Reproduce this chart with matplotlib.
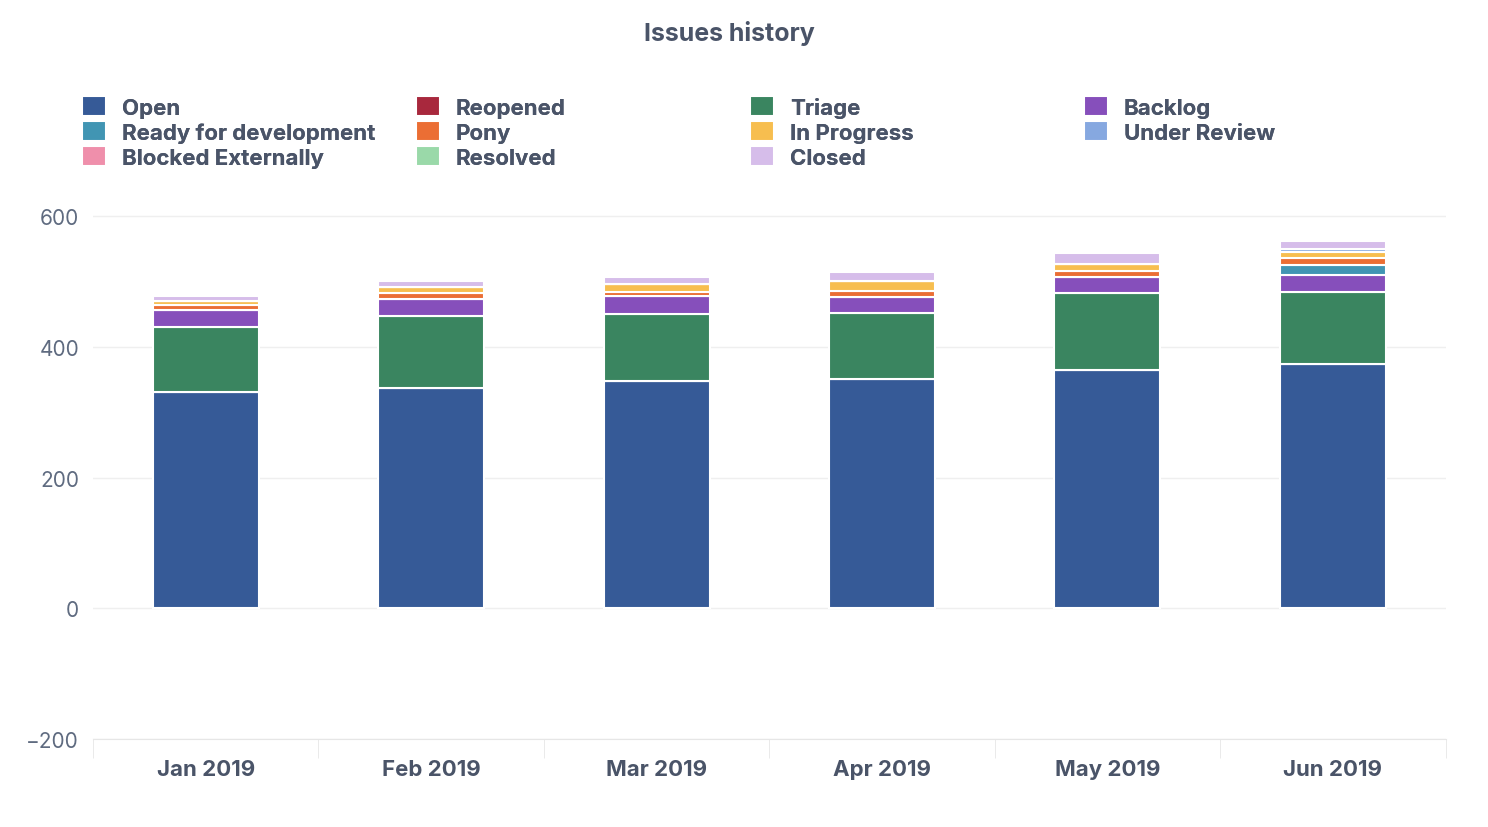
import matplotlib.pyplot as plt
import numpy as np

plt.rcParams['font.family'] = ['Inter', 'DejaVu Sans']

months = ['Jan 2019', 'Feb 2019', 'Mar 2019', 'Apr 2019', 'May 2019', 'Jun 2019']
statuses = ['Open', 'Reopened', 'Triage', 'Backlog',
            'Ready for development', 'Pony', 'In Progress', 'Under Review',
            'Blocked Externally', 'Resolved', 'Closed']
colors = ['#365a97', '#a8283d', '#3a8560', '#864fbb',
          '#4195b3', '#eb6e34', '#f7be4f', '#86a8e0',
          '#ef8fab', '#9ad9a9', '#d6bdea']

open_ = [330, 337, 348, 351, 365, 373]
reopened = [0, 0, 0, 0, 0, 0]
triage = [100, 110, 102, 100, 117, 110]
backlog = [26, 26, 27, 25, 25, 27]
ready = [0, 0, 0, 0, 0, 15]
pony = [8, 9, 6, 9, 9, 10]
in_progress = [5, 9, 13, 16, 11, 9]
under_review = [0, 0, 0, 0, 0, 5]
blocked = [0, 0, 0, 0, 0, 0]
resolved = [0, 0, 0, 0, 0, 0]
closed = [9, 10, 10, 13, 16, 12]
series = [open_, reopened, triage, backlog, ready, pony, in_progress,
          under_review, blocked, resolved, closed]

fig = plt.figure(figsize=(14.88, 8.28), dpi=100)
ax = fig.add_axes([0.0625, 0.106, 0.909, 0.648])
x = np.arange(len(months))
bottom = np.zeros(len(months))
for name, vals, c in zip(statuses, series, colors):
    vals = np.array(vals, dtype=float)
    ax.bar(x, vals, 0.47, bottom=bottom, color=c, edgecolor='white', linewidth=1.5, label=name)
    bottom += vals

ax.set_ylim(-200, 620)
ax.set_xlim(-0.5, len(months) - 0.5)
ax.set_yticks([-200, 0, 200, 400, 600])
ax.grid(axis='y', color='#efefef', linewidth=1)
ax.set_axisbelow(True)
for s in ['top', 'right', 'left']:
    ax.spines[s].set_visible(False)
ax.spines['bottom'].set_color('#e6e6e6')
ax.set_xticks(x)
ax.set_xticklabels(months, fontsize=16, fontweight='bold', color='#4a5468')
ax.set_xticks(np.arange(len(months) + 1) - 0.5, minor=True)
ax.tick_params(axis='x', which='major', length=0, pad=14)
ax.tick_params(axis='x', which='minor', length=14, color='#e6e6e6')
ax.tick_params(axis='y', length=0, labelsize=15, labelcolor='#5f6b80', pad=10)

fig.text(0.49, 0.96, 'Issues history', ha='center', va='center', fontsize=18,
         fontweight='bold', color='#4a5468')

# legend: one block per column, evenly spaced
h, l = ax.get_legend_handles_labels()
cols = [[0, 4, 8], [1, 5, 9], [2, 6, 10], [3, 7]]
for k, idx in enumerate(cols):
    leg = fig.legend([h[i] for i in idx], [l[i] for i in idx],
                     loc='upper left', bbox_to_anchor=(0.049 + k * 0.2245, 0.893),
                     frameon=False, handlelength=1.1, handleheight=1.0,
                     labelspacing=0.15, handletextpad=0.7, borderaxespad=0,
                     labelcolor='#4a5468', prop={'weight': 'bold', 'size': 16})
    fig.add_artist(leg)

fig.savefig('out.png')
